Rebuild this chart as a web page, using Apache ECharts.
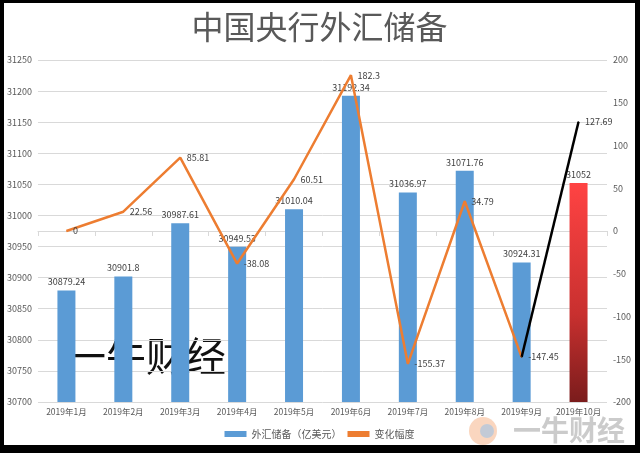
<!DOCTYPE html>
<html>
<head>
<meta charset="utf-8">
<script src="https://cdn.jsdelivr.net/npm/echarts@6/dist/echarts.min.js"></script>
<style>
  html, body { margin: 0; padding: 0; background: #000; }
  #chart { position: absolute; left: 4px; top: 3px; width: 631px; height: 442px; background: #fff; }
</style>
</head>
<body>
<div id="chart"></div>
<script>
// 月份
const months = ['2019年1月', '2019年2月', '2019年3月', '2019年4月', '2019年5月',
  '2019年6月', '2019年7月', '2019年8月', '2019年9月', '2019年10月'];
// 外汇储备（亿美元）
const reserves = [30879.24, 30901.8, 30987.61, 30949.53, 31010.04,
  31192.34, 31036.97, 31071.76, 30924.31, 31052];
// 变化幅度（1-9月）
const changes = [0, 22.56, 85.81, -38.08, 60.51, 182.3, -155.37, 34.79, -147.45];
// 10月变化
const octChange = 127.69;

const font = '"Noto Sans CJK SC", "Noto Sans", sans-serif';
const grey = '#595959';

const barData = reserves.map((v, i) => {
  if (i === reserves.length - 1) {
    return {
      value: v,
      itemStyle: {
        color: new echarts.graphic.LinearGradient(0, 0, 0, 1, [
          { offset: 0, color: '#ff4343' },
          { offset: 0.6, color: '#c8302f' },
          { offset: 1, color: '#7a1c1c' }
        ])
      }
    };
  }
  return v;
});

// 黑线：9月 -> 10月
const lastLine = months.map((m, i) => {
  if (i === 8) return changes[8];
  if (i === 9) return octChange;
  return null;
});

const myChart = echarts.init(document.getElementById('chart'));
const option = {
  animation: false,
  textStyle: { fontFamily: font },
  title: {
    text: '中国央行外汇储备',
    left: 'center',
    top: 3,
    textStyle: { fontFamily: font, fontSize: 32, fontWeight: 'normal', color: grey }
  },
  legend: {
    bottom: 1,
    left: 'center',
    itemWidth: 22,
    itemHeight: 6,
    itemGap: 6,
    textStyle: { fontSize: 10, color: grey, fontFamily: font },
    data: [
      { name: '外汇储备（亿美元）', icon: 'rect' },
      { name: '变化幅度', icon: 'rect', itemStyle: { color: '#ed7d31' } }
    ]
  },
  grid: { left: 33, right: 28, top: 57, bottom: 43 },
  xAxis: {
    type: 'category',
    data: months,
    axisLine: { lineStyle: { color: '#d9d9d9' } },
    axisTick: { show: true, lineStyle: { color: '#d9d9d9' } },
    axisLabel: { color: grey, fontSize: 8.5, margin: 6, interval: 0 }
  },
  yAxis: [
    {
      type: 'value',
      min: 30700,
      max: 31250,
      interval: 50,
      axisLabel: { color: grey, fontSize: 9, margin: 6, formatter: v => String(v) },
      splitLine: { lineStyle: { color: '#d9d9d9' } }
    },
    {
      type: 'value',
      min: -200,
      max: 200,
      interval: 50,
      axisLabel: { color: grey, fontSize: 9, margin: 6, formatter: v => String(v) },
      splitLine: { show: false }
    }
  ],
  series: [
    {
      name: '外汇储备（亿美元）',
      type: 'bar',
      barWidth: 18,
      itemStyle: { color: '#5b9bd5' },
      label: { show: true, position: 'top', color: '#404040', fontSize: 9, distance: 4 },
      data: barData
    },
    {
      name: '变化幅度',
      type: 'line',
      yAxisIndex: 1,
      symbol: 'circle',
      symbolSize: 1,
      showAllSymbol: true,
      lineStyle: { color: '#ed7d31', width: 2.5 },
      itemStyle: { color: '#ed7d31' },
      label: { show: true, position: 'right', color: '#404040', fontSize: 9, distance: 6 },
      data: changes
    },
    {
      name: '10月',
      type: 'line',
      yAxisIndex: 1,
      symbol: 'circle',
      symbolSize: 1,
      showAllSymbol: true,
      lineStyle: { color: '#000', width: 2.5 },
      itemStyle: { color: '#000' },
      label: {
        show: true, position: 'right', color: '#404040', fontSize: 9, distance: 6,
        formatter: p => (p.dataIndex === 9 ? p.value : '')
      },
      data: lastLine
    }
  ],
  graphic: [
    {
      type: 'text',
      left: 62,
      top: 333,
      style: { text: '一牛财经', fill: '#111', font: '40px ' + font }
    },
    {
      type: 'group',
      right: 10,
      bottom: 0,
      children: [
        { type: 'circle', shape: { cx: 10, cy: 15, r: 14 }, style: { fill: '#f6b48a', opacity: 0.55 } },
        { type: 'circle', shape: { cx: 14, cy: 15, r: 7 }, style: { fill: '#9fc3e6', opacity: 0.6 } },
        { type: 'text', x: 40, y: 0, style: { text: '一牛财经', fill: '#b5b5b5', opacity: 0.7, font: 'bold 28px ' + font } }
      ]
    }
  ]
};
myChart.setOption(option);
</script>
</body>
</html>
